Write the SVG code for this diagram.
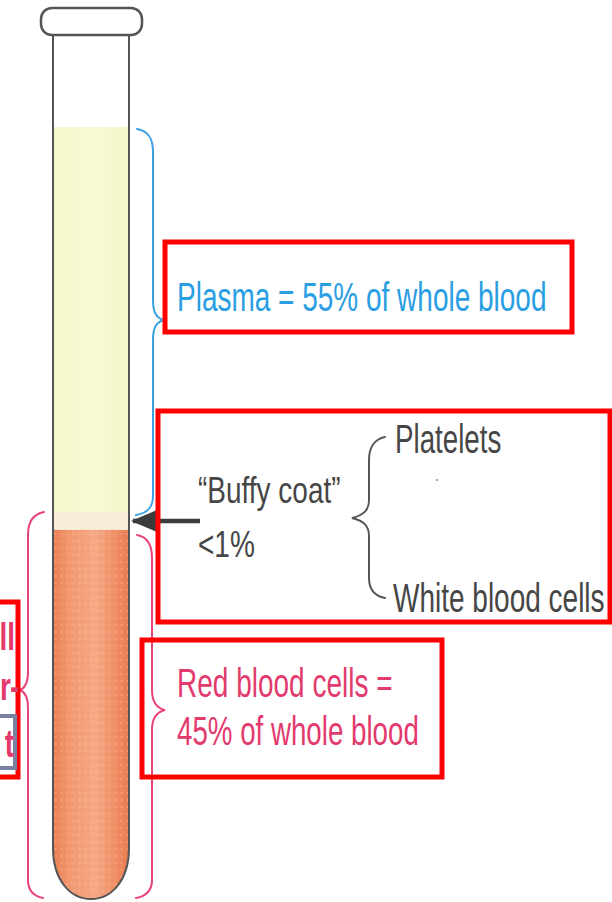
<svg xmlns="http://www.w3.org/2000/svg" width="612" height="902" viewBox="0 0 612 902">
  <style>
    text { font-family: "Liberation Sans", Arial, sans-serif; font-size: 28px; }
    .blue { fill: #2a9ee2; }
    .pink { fill: #e33a6e; }
    .gray { fill: #464646; }
    .cut { font-weight: bold; }
    .box { fill: none; stroke: #ff0000; stroke-width: 5; }
    .brace { fill: none; stroke-width: 2; stroke-linecap: round; }
    .wall { fill: none; stroke: #555; stroke-width: 2; }
  </style>
  <defs>
    <clipPath id="tubeInside">
      <path d="M53,35 L53,848 C53,880 70,899 91,899 C112,899 129,880 129,848 L129,35 Z"/>
    </clipPath>
    <linearGradient id="redFill" x1="0" y1="0" x2="1" y2="0">
      <stop offset="0" stop-color="#e8794c"/>
      <stop offset="0.25" stop-color="#f39a72"/>
      <stop offset="0.55" stop-color="#f5a985"/>
      <stop offset="0.8" stop-color="#f08f66"/>
      <stop offset="1" stop-color="#e9764b"/>
    </linearGradient>
    <linearGradient id="plasmaFill" x1="0" y1="0" x2="1" y2="0">
      <stop offset="0" stop-color="#f4f6c8"/>
      <stop offset="0.5" stop-color="#f8fad6"/>
      <stop offset="1" stop-color="#f2f5c6"/>
    </linearGradient>
    <pattern id="grain" width="6" height="7" patternUnits="userSpaceOnUse">
      <circle cx="1.5" cy="2" r="0.8" fill="#fbd0b5" opacity="0.6"/>
      <circle cx="4.5" cy="5.5" r="0.7" fill="#e97f55" opacity="0.5"/>
    </pattern>
    <marker id="arrowHead" markerWidth="6" markerHeight="5" refX="5.5" refY="2.5" orient="auto" markerUnits="strokeWidth">
      <path d="M0,0 L6,2.5 L0,5 Z" fill="#3c3c3c"/>
    </marker>
  </defs>

  <!-- test tube with separated blood layers -->
  <g id="tube">
    <g clip-path="url(#tubeInside)">
      <rect x="50" y="127" width="82" height="386" fill="url(#plasmaFill)"/>
      <rect x="50" y="512" width="82" height="18" fill="#f8ecd6"/>
      <rect x="50" y="530" width="82" height="372" fill="url(#redFill)"/>
      <rect x="50" y="530" width="82" height="372" fill="url(#grain)"/>
    </g>
    <path class="wall" d="M53,35 L53,848 C53,880 70,899 91,899 C112,899 129,880 129,848 L129,35"/>
    <rect x="41" y="8" width="101" height="27" rx="11" fill="#fff" stroke="#555" stroke-width="2.5"/>
  </g>

  <!-- braces and pointer arrow -->
  <g id="connectors">
    <path class="brace" stroke="#3aa0e2" d="M137,129 C149,131 153,139 153,152 L153,300 C153,312 156,318 164,320 C156,322 153,328 153,340 L153,496 C153,507 148,513 136,515"/>
    <path class="brace" stroke="#e8447a" d="M137,535 C148,537 152,545 152,558 L152,690 C152,702 156,708 165,710 C156,712 152,718 152,730 L152,880 C152,890 147,896 136,898"/>
    <path class="brace" stroke="#e8447a" d="M44,512 C33,514 28,522 28,535 L28,672 C28,683 25,688 20,690 C25,692 28,697 28,708 L28,880 C28,890 33,896 43,898"/>
    <path class="brace" stroke="#555" d="M385,437 C375,439 369,447 369,460 L369,500 C369,510 364,515 352,518 C364,521 369,526 369,536 L369,578 C369,590 375,596 385,598"/>
    <line x1="200" y1="521" x2="133" y2="521" stroke="#3c3c3c" stroke-width="4.5" marker-end="url(#arrowHead)"/>
  </g>

  <g id="plasma">
    <rect class="box" x="165" y="242" width="407" height="90"/>
    <text class="blue" transform="translate(177,311) scale(1,1.43)">Plasma = 55% of whole blood</text>
  </g>

  <g id="buffy-coat">
    <rect class="box" x="158" y="411" width="452" height="211"/>
    <text class="gray" transform="translate(198,503) scale(1,1.32)">“Buffy coat”</text>
    <text class="gray" transform="translate(198,557) scale(1,1.32)">&lt;1%</text>
    <text class="gray" transform="translate(395,453) scale(0.99,1.44)">Platelets</text>
    <circle cx="437" cy="480" r="1" fill="#888"/>
    <text class="gray" transform="translate(393,612) scale(1,1.42)">White blood cells</text>
  </g>

  <g id="red-cells">
    <rect class="box" x="142" y="640" width="300" height="137"/>
    <text class="pink" transform="translate(177,697) scale(1,1.44)">Red blood cells =</text>
    <text class="pink" transform="translate(177,745) scale(0.99,1.44)">45% of whole blood</text>
  </g>

  <g id="hematocrit">
    <rect class="box" x="-6" y="602" width="24" height="175"/>
    <rect x="-6" y="716" width="21" height="52" fill="none" stroke="#7a80a2" stroke-width="4"/>
    <text class="pink cut" transform="translate(15,650) scale(1,1.4)" text-anchor="end">ll</text>
    <text class="pink cut" transform="translate(0,700) scale(1,1.4)">r</text>
    <text class="pink cut" transform="translate(10,700) scale(1,1.4)">-</text>
    <text class="pink cut" transform="translate(14,757) scale(1,1.4)" text-anchor="end">t</text>
  </g>
</svg>
